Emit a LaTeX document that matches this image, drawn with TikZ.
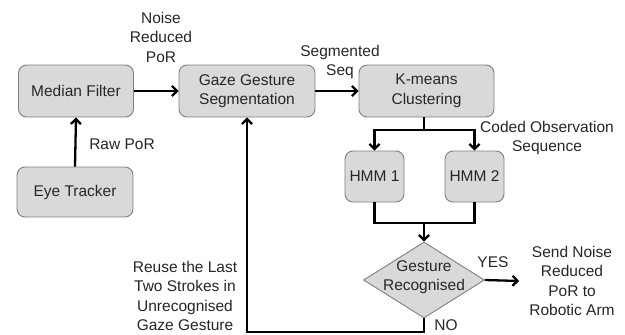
\documentclass[tikz,border=0pt]{standalone}
\usepackage{fontspec}
\setmainfont{Liberation Sans}
\usetikzlibrary{arrows.meta,shapes.geometric}
\definecolor{boxfill}{HTML}{D9D9D9}
\definecolor{boxline}{HTML}{7F7F7F}
\definecolor{txt}{HTML}{262626}
\begin{document}
\begin{tikzpicture}[x=1pt,y=-1pt,
  every node/.style={font=\fontsize{15.5}{19.5}\selectfont, text=txt},
  box/.style={draw=boxline, fill=boxfill, line width=0.9pt, rounded corners=8pt, align=center, inner sep=0pt},
  dec/.style={draw=boxline, fill=boxfill, line width=0.9pt, diamond, inner sep=0pt, minimum width=121pt, minimum height=76pt},
  lab/.style={align=center, inner sep=0pt},
  flow/.style={draw=black, line width=2.3pt, -{Straight Barb[length=5pt,width=10pt]}},
  wire/.style={draw=black, line width=2.3pt}]
\useasboundingbox (0,0) rectangle (625,335);
\node[box, minimum width=115pt, minimum height=52pt] (mf) at (76,91) {Median Filter};
\node[box, minimum width=136pt, minimum height=52pt] (ggs) at (247,91) {Gaze Gesture\\Segmentation};
\node[box, minimum width=135pt, minimum height=52pt] (km) at (426.5,91) {K-means\\Clustering};
\node[box, minimum width=116pt, minimum height=50pt] (et) at (75,192) {Eye Tracker};
\node[box, minimum width=59pt, minimum height=51pt] (h1) at (374.5,176.5) {HMM 1};
\node[box, minimum width=59pt, minimum height=51pt] (h2) at (474.5,176.5) {HMM 2};
\node[dec] (d) at (424,280) {};
\node[lab] (dt) at (424,277) {Gesture\\Recognised};
\node[lab, inner xsep=10pt] (send) at (572,281) {Send Noise\\Reduced\\PoR to\\Robotic Arm};
\node[lab] (nr) at (161,37) {Noise\\Reduced\\PoR};
\node[lab] (raw) at (122,144) {Raw PoR};
\node[lab] (seg) at (340,62) {Segmented\\Seq};
\node[lab] (cos) at (547,138) {Coded Observation\\Sequence};
\node[lab] (yes) at (493,262) {YES};
\node[lab] (no) at (446,325) {NO};
\node[lab] (reuse) at (185,296) {Reuse the Last\\Two Strokes in\\Unrecognised\\Gaze Gesture};
\coordinate (split) at (424,130);
\coordinate (join) at (424,223);
\coordinate (down) at (424,332);
\draw[flow] (et.north) -- (mf.south);
\draw[flow] (mf.east) -- (ggs.west);
\draw[flow] (ggs.east) -- (km.west);
\draw[wire] (km.south -| split) -- (split);
\draw[flow] (split) -| (h1.north);
\draw[flow] (split) -| (h2.north);
\draw[wire] (h1.south) |- (join);
\draw[wire] (h2.south) |- (join);
\draw[flow] (join) -- (d.north);
\draw[flow] (d.east) -- (send.west);
\draw[flow] (d.south) -- (down) -| (ggs.south);
\end{tikzpicture}
\end{document}
